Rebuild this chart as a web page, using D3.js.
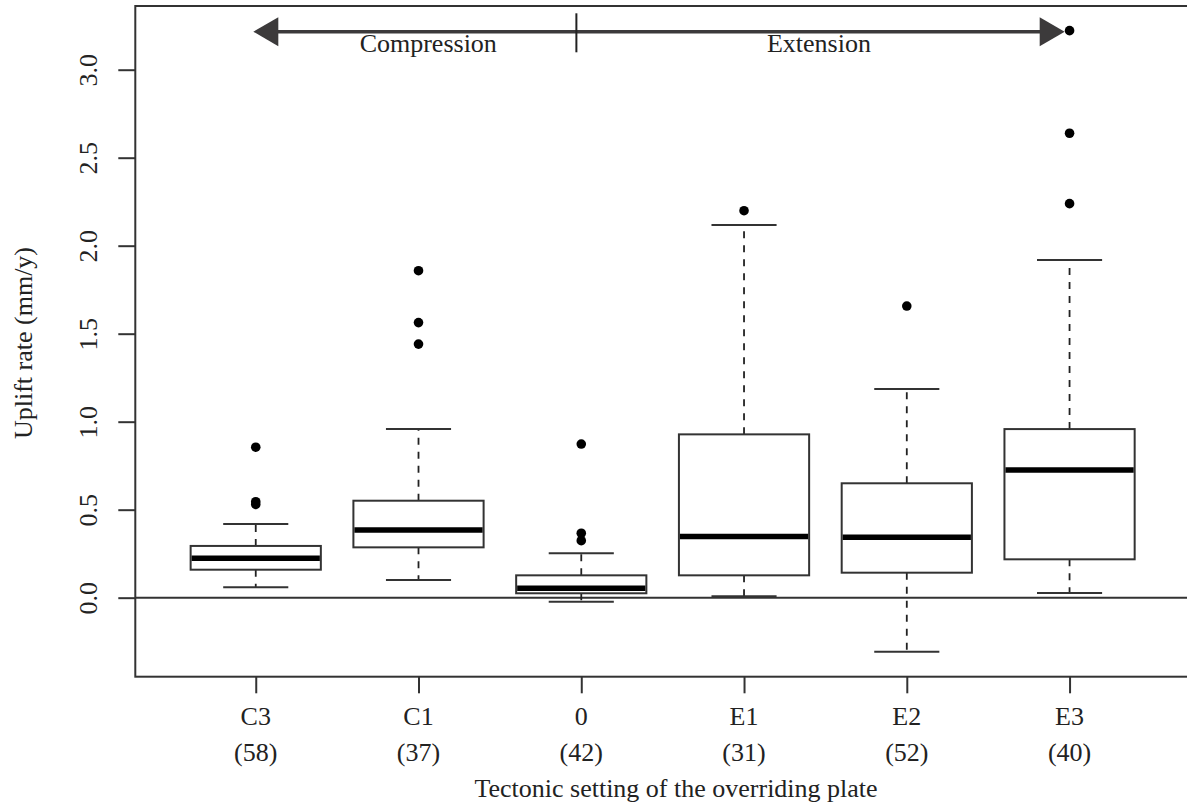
<!DOCTYPE html>
<html>
<head>
    <script src="https://cdnjs.cloudflare.com/ajax/libs/d3/7.8.5/d3.min.js"></script>
    <style>
        body { margin: 0; background: #fff; }
        text { font-family: "Liberation Serif", "Times New Roman", serif; fill: #222; }
    </style>
</head>
<body>
    <div id="chart"></div>
    <script>
        const width = 1187;
        const height = 805;

        // Data (uplift rate, mm/y)
        const categories = ["C3", "C1", "0", "E1", "E2", "E3"];
        const counts = [58, 37, 42, 31, 52, 40];
        const whiskLow = [0.059, 0.100, -0.023, 0.008, -0.307, 0.027];
        const q1 = [0.159, 0.286, 0.025, 0.127, 0.142, 0.218];
        const medians = [0.224, 0.385, 0.054, 0.347, 0.343, 0.726];
        const q3 = [0.294, 0.551, 0.127, 0.928, 0.650, 0.958];
        const whiskHigh = [0.419, 0.958, 0.252, 2.118, 1.186, 1.919];
        const outliers = [
            [0.530, 0.545, 0.855],
            [1.441, 1.563, 1.858],
            [0.324, 0.366, 0.873],
            [2.199],
            [1.657],
            [2.239, 2.639, 3.222]
        ];
        const yTicks = [0, 0.5, 1.0, 1.5, 2.0, 2.5, 3.0];

        // Compression / Extension arrow (in data units)
        const arrowY = 3.216;
        const arrowMid = 2.97;
        const arrowLeft = 0.985;
        const arrowRight = 5.97;

        const plot = {left: 135.3, top: 6, right: 1190, bottom: 676.7};

        const svg = d3.select("#chart").append("svg")
            .attr("width", width)
            .attr("height", height);

        const x = d3.scaleLinear().domain([0.26, 6.74]).range([plot.left, plot.right]);
        const y = d3.scaleLinear().domain([-0.449, 3.362]).range([plot.bottom, plot.top]);
        const step = x(2) - x(1);
        const boxW = step * 0.8;

        // zero line
        svg.append("line")
            .attr("x1", plot.left).attr("x2", plot.right)
            .attr("y1", y(0)).attr("y2", y(0))
            .attr("stroke", "#333").attr("stroke-width", 2);

        // boxes
        const groups = svg.selectAll("g.box")
            .data(categories.map((c, i) => ({i, c})))
            .enter().append("g").attr("class", "box");

        // whiskers
        groups.append("line")
            .attr("x1", d => x(d.i + 1)).attr("x2", d => x(d.i + 1))
            .attr("y1", d => y(q3[d.i])).attr("y2", d => y(whiskHigh[d.i]))
            .attr("stroke", "#222").attr("stroke-width", 1.8).attr("stroke-dasharray", "7,7");
        groups.append("line")
            .attr("x1", d => x(d.i + 1)).attr("x2", d => x(d.i + 1))
            .attr("y1", d => y(q1[d.i])).attr("y2", d => y(whiskLow[d.i]))
            .attr("stroke", "#222").attr("stroke-width", 1.8).attr("stroke-dasharray", "7,7");

        // staples
        [whiskHigh, whiskLow].forEach(arr => {
            groups.append("line")
                .attr("x1", d => x(d.i + 1) - boxW / 4).attr("x2", d => x(d.i + 1) + boxW / 4)
                .attr("y1", d => y(arr[d.i])).attr("y2", d => y(arr[d.i]))
                .attr("stroke", "#333").attr("stroke-width", 2);
        });

        groups.append("rect")
            .attr("x", d => x(d.i + 1) - boxW / 2)
            .attr("width", boxW)
            .attr("y", d => y(q3[d.i]))
            .attr("height", d => y(q1[d.i]) - y(q3[d.i]))
            .attr("fill", "#fff").attr("stroke", "#333").attr("stroke-width", 2);

        groups.append("line")
            .attr("x1", d => x(d.i + 1) - boxW / 2 + 1).attr("x2", d => x(d.i + 1) + boxW / 2 - 1)
            .attr("y1", d => y(medians[d.i])).attr("y2", d => y(medians[d.i]))
            .attr("stroke", "#000").attr("stroke-width", 5.5);

        // outliers
        groups.selectAll("circle")
            .data(d => outliers[d.i].map(v => ({i: d.i, v})))
            .enter().append("circle")
            .attr("cx", d => x(d.i + 1))
            .attr("cy", d => y(d.v))
            .attr("r", 4.8)
            .attr("fill", "#000");

        // plot frame
        svg.append("rect")
            .attr("x", plot.left).attr("y", plot.top)
            .attr("width", plot.right - plot.left).attr("height", plot.bottom - plot.top)
            .attr("fill", "none").attr("stroke", "#333").attr("stroke-width", 2);

        // y axis
        const yAxis = svg.append("g")
            .attr("transform", `translate(${plot.left},0)`)
            .call(d3.axisLeft(y).tickValues(yTicks).tickSize(17).tickFormat(d3.format(".1f")));
        yAxis.select(".domain").remove();
        yAxis.selectAll(".tick line").attr("stroke", "#333").attr("stroke-width", 2);
        yAxis.selectAll(".tick text")
            .attr("x", null).attr("dy", null)
            .attr("transform", "translate(-38.8,0) rotate(-90)")
            .attr("text-anchor", "middle")
            .style("font-size", "26px")
            .style("font-family", "'Liberation Serif', serif")
            .attr("fill", "#222");

        // x axis
        const xAxis = svg.append("g")
            .attr("transform", `translate(0,${plot.bottom})`)
            .call(d3.axisBottom(x).tickValues(d3.range(1, categories.length + 1)).tickSize(16.6).tickFormat(""));
        xAxis.select(".domain").remove();
        xAxis.selectAll(".tick line").attr("stroke", "#333").attr("stroke-width", 2);

        svg.selectAll("text.cat")
            .data(categories).enter().append("text").attr("class", "cat")
            .attr("x", (d, i) => x(i + 1)).attr("y", 725)
            .attr("text-anchor", "middle").style("font-size", "26px")
            .text(d => d);
        svg.selectAll("text.cnt")
            .data(counts).enter().append("text").attr("class", "cnt")
            .attr("x", (d, i) => x(i + 1)).attr("y", 761)
            .attr("text-anchor", "middle").style("font-size", "26px")
            .text(d => `(${d})`);

        svg.append("text")
            .attr("x", 676).attr("y", 796.5)
            .attr("text-anchor", "middle").style("font-size", "26px")
            .text("Tectonic setting of the overriding plate");

        svg.append("text")
            .attr("transform", "translate(32,343) rotate(-90)")
            .attr("text-anchor", "middle").style("font-size", "26px")
            .text("Uplift rate (mm/y)");

        // compression / extension arrow
        const arrowColor = "#3c3a3b";
        const ay = y(arrowY);
        svg.append("line")
            .attr("x1", x(arrowLeft) + 20).attr("x2", x(arrowRight) - 20)
            .attr("y1", ay).attr("y2", ay)
            .attr("stroke", arrowColor).attr("stroke-width", 3.5);
        const headLen = 25, headHalf = 14.5;
        svg.append("path")
            .attr("d", `M${x(arrowLeft)},${ay} L${x(arrowLeft) + headLen},${ay - headHalf} L${x(arrowLeft) + headLen},${ay + headHalf} Z`)
            .attr("fill", arrowColor);
        svg.append("path")
            .attr("d", `M${x(arrowRight)},${ay} L${x(arrowRight) - headLen},${ay - headHalf} L${x(arrowRight) - headLen},${ay + headHalf} Z`)
            .attr("fill", arrowColor);
        svg.append("line")
            .attr("x1", x(arrowMid)).attr("x2", x(arrowMid))
            .attr("y1", 13.3).attr("y2", 52.3)
            .attr("stroke", "#222").attr("stroke-width", 2);

        svg.append("text")
            .attr("x", x(2.06)).attr("y", 51.5)
            .attr("text-anchor", "middle").style("font-size", "26px")
            .text("Compression");
        svg.append("text")
            .attr("x", x(4.46)).attr("y", 51.5)
            .attr("text-anchor", "middle").style("font-size", "26px")
            .text("Extension");
    </script>
</body>
</html>
